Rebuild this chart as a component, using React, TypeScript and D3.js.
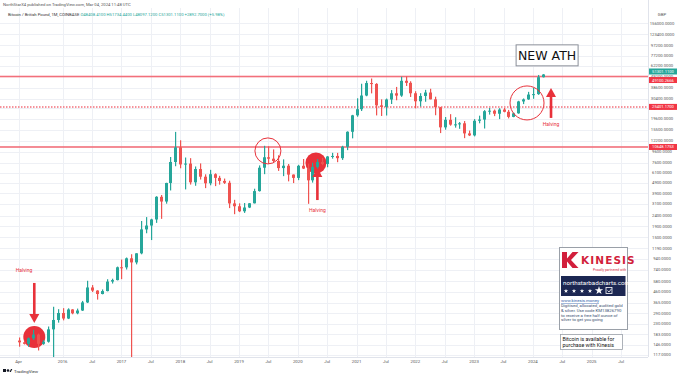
import React from "react";
import * as d3 from "d3";

const W = 680;
const H = 378;

// Monthly BTC/GBP candles, Apr 2015 .. Mar 2024
const startMonth = new Date(2015, 3, 1);
const open = [
  160, 154, 149, 168, 182, 149, 156, 204, 250,
  291, 258, 314, 289, 307, 366, 506, 473, 439, 468, 575, 594,
  784, 782, 952, 871, 1061, 1783, 1938, 2212, 3615, 3263, 4880, 7692,
  10567, 7300, 7432, 4950, 6600, 5590, 4848, 5901, 5450, 5100, 4900, 3132,
  2945, 2641, 2865, 3140, 4092, 6794, 8520, 8262, 7861, 6740, 7093, 5853,
  5447, 7083, 6672, 5169, 6904, 7683, 7371, 8664, 8767, 8357, 10698, 14812,
  21161, 24168, 32518, 42609, 41812, 26268, 25391, 29827, 34130, 32459, 44745, 42800,
  34150, 28700, 32200, 34700, 29950, 25200, 16300, 19200, 17300, 17400, 17800, 14300,
  13700, 18800, 19300, 23150, 23400, 21900, 24000, 22850, 20450, 22100, 28600, 29900,
  33200, 33500, 48408.41,
];
const high = [
  171, 160, 171, 202, 186, 162, 217, 333, 316,
  323, 322, 316, 320, 378, 585, 533, 477, 485, 605, 612, 796,
  927, 969, 1040, 1063, 2140, 2328, 2246, 3662, 3759, 4902, 8571, 14776,
  12321, 8475, 8357, 6979, 7455, 5886, 6489, 6016, 5700, 5369, 5124, 3386,
  3137, 3158, 3154, 4308, 7143, 10929, 10820, 10107, 8902, 8140, 7364, 5871,
  7235, 8203, 7411, 7576, 8187, 8411, 8740, 9383, 9372, 10930, 14955, 21387,
  30620, 41978, 44775, 47029, 42500, 29928, 30446, 36594, 39185, 48905, 49100, 44300,
  35700, 34200, 36800, 37650, 31700, 25400, 20400, 21700, 20300, 18300, 18700, 15200,
  19500, 21000, 23700, 24800, 24000, 24700, 24800, 23800, 22500, 29000, 30500, 35200,
  38500, 50800, 51734.44,
];
const low = [
  140, 147, 140, 162, 129, 146, 153, 100, 236,
  248, 255, 283, 283, 304, 361, 458, 389, 436, 465, 551, 590,
  606, 747, 100, 835, 1039, 1640, 1415, 2054, 2241, 3114, 4150, 7015,
  6714, 4245, 4714, 4593, 5261, 4364, 4641, 4558, 4708, 4777, 2829, 2480,
  2595, 2549, 2831, 3131, 4050, 5906, 7434, 7656, 6341, 5659, 5054, 4871,
  5189, 6602, 3105, 4920, 6593, 7177, 6863, 8271, 7659, 8047, 9947, 12847,
  20533, 23237, 32000, 34058, 21127, 20870, 21079, 27051, 29333, 31599, 40000, 31500,
  24600, 25600, 28400, 29900, 21200, 14400, 15500, 16900, 16200, 15800, 12900, 13500,
  13400, 17800, 15900, 21500, 20800, 19500, 22600, 19800, 20300, 21900, 27000, 29600,
  30300, 33000, 48097.12,
];
const close = [
  154, 149, 168, 182, 149, 156, 204, 250, 291,
  258, 314, 289, 307, 366, 506, 473, 439, 468, 575, 594, 784,
  782, 952, 871, 1061, 1783, 1938, 2212, 3615, 3263, 4880, 7692, 10567,
  7300, 7432, 4950, 6600, 5590, 4848, 5901, 5450, 5100, 4900, 3132, 2945,
  2641, 2865, 3140, 4092, 6794, 8520, 8262, 7861, 6740, 7093, 5853, 5447,
  7083, 6672, 5169, 6904, 7683, 7371, 8664, 8767, 8357, 10698, 14812, 21161,
  24168, 32518, 42609, 41812, 26268, 25391, 29827, 34130, 32459, 44745, 42800, 34150,
  28700, 32200, 34700, 29950, 25200, 16300, 19200, 17300, 17400, 17800, 14300, 13700,
  18800, 19300, 23150, 23400, 21900, 24000, 22850, 20450, 22100, 28600, 29900, 33200,
  33500, 48408.41, 51301.11,
];

// Time axis labels (month index from Apr 2015)
const xTickIndex = [0, 9, 15, 21, 27, 33, 39, 45, 51, 57, 63, 69, 75, 81, 87, 93, 99, 105, 111, 117, 123];
const xTickLabels = ["Apr", "2016", "Jul", "2017", "Jul", "2018", "Jul", "2019", "Jul", "2020", "Jul", "2021", "Jul", "2022", "Jul", "2023", "Jul", "2024", "Jul", "2025", "Jul"];

// Price axis ticks (log scale)
const yTicks = [156000, 123400, 97200, 77200, 62200, 49200, 38600, 30400, 24700, 19600, 15500, 12200, 9600, 7600, 6100, 4900, 3900, 3100, 2400, 1900, 1500, 1190, 940, 740, 580, 460, 365, 290, 230, 183, 146, 117];

// Horizontal levels drawn by the author
const levelValues = [49100.2666, 25401.17, 10648.1753];
const levelDashed = [false, true, false];

// Annotations in data space (month index, price)
const circleIdx = [3.2, 50.9, 60.7, 103.8];
const circlePrice = [173, 9780, 7530, 27680];
const circleR = [11, 13, 10.5, 17];
const circleFilled = [true, false, true, false];

const arrowIdx = [3.2, 61.0, 108.7];
const arrowTail = [558, 3370, 20000];
const arrowTip = [234, 6760, 38300];
const halvingIdx = [1.1, 61.0, 108.7];
const halvingPrice = [708, 2600, 16800];

const UP = "#26a69a";
const DOWN = "#ef5350";
const RED = "#e8313a";
const LEVEL = "#f2707b";
const PLOT_R = 648;
const PLOT_T = 8;
const PLOT_B = 357;

export default function App() {
  const x = d3.scaleLinear().domain([-3.8, 128.5]).range([0, PLOT_R]);
  const y = d3.scaleLog().domain([112, 217000]).range([PLOT_B, PLOT_T]);
  const dates = d3.timeMonth.range(startMonth, d3.timeMonth.offset(startMonth, open.length));
  const fmt = (v: number) => v.toFixed(4);
  const n = close.length - 1;
  const chg = close[n] - open[n];
  const pct = (chg / open[n]) * 100;

  const star = d3.symbol().type(d3.symbolStar);

  const arrow = (i: number) => {
    const cx = x(arrowIdx[i]);
    const yt = y(arrowTail[i]);
    const yp = y(arrowTip[i]);
    const dir = yp > yt ? 1 : -1;
    const headL = 9;
    const headW = 5;
    const yb = yp - dir * headL;
    return (
      <g key={"a" + i}>
        <rect x={cx - 1.3} width={2.6} y={Math.min(yt, yb)} height={Math.abs(yb - yt)} fill={RED} />
        <path d={`M${cx - headW},${yb} L${cx + headW},${yb} L${cx},${yp} Z`} fill={RED} />
      </g>
    );
  };

  const priceLabels = [
    { v: close[n], c: UP, dy: -3 },
    { v: levelValues[0], c: "#f23645", dy: 3.5 },
    { v: levelValues[1], c: "#f23645", dy: 0 },
    { v: levelValues[2], c: "#f23645", dy: 0 },
  ];

  return (
    <svg
      width={W}
      height={H}
      style={{ position: "absolute", left: 0, top: 0, background: "#fff", fontFamily: "Roboto, 'Liberation Sans', sans-serif" }}
    >
      <defs>
        <clipPath id="plot">
          <rect x={0} y={PLOT_T} width={PLOT_R} height={PLOT_B - PLOT_T} />
        </clipPath>
      </defs>
      <rect x={0} y={0} width={W} height={H} fill="#fff" />

      {/* grid */}
      <g stroke="#eef0f5" strokeWidth={1}>
        {xTickIndex.map((t, k) => (
          <line key={"vg" + k} x1={Math.round(x(t)) + 0.5} x2={Math.round(x(t)) + 0.5} y1={PLOT_T} y2={PLOT_B} />
        ))}
        {yTicks.map((t, k) => (
          <line key={"hg" + k} x1={0} x2={PLOT_R} y1={Math.round(y(t)) + 0.5} y2={Math.round(y(t)) + 0.5} />
        ))}
      </g>

      {/* header */}
      <text x={3} y={6} fontSize={4.2} fill="#555">
        NorthStarX4 published on TradingView.com, Mar 04, 2024 11:48 UTC
      </text>
      <text x={8} y={16} fontSize={4.2} fill="#333">
        Bitcoin / British Pound, 1M, COINBASE{" "}
        <tspan fill={UP}>
          {`O${fmt(open[n])} H${fmt(high[n])} L${fmt(low[n])} C${fmt(close[n])} +${fmt(chg)} (+${pct.toFixed(2)}%)`}
        </tspan>
      </text>

      <g clipPath="url(#plot)">
        {/* filled circles behind candles */}
        {circleIdx.map((ci, k) =>
          circleFilled[k] ? (
            <circle key={"cf" + k} cx={x(ci)} cy={y(circlePrice[k])} r={circleR[k]} fill={RED} />
          ) : null
        )}

        {/* level lines */}
        {levelValues.map((v, k) =>
          levelDashed[k] ? (
            <line
              key={"lv" + k}
              x1={0}
              x2={PLOT_R}
              y1={y(v)}
              y2={y(v)}
              stroke={LEVEL}
              strokeWidth={1.5}
              strokeDasharray="1.5 1.5"
            />
          ) : (
            <rect key={"lv" + k} x={0} y={y(v) - 0.8} width={PLOT_R} height={1.6} fill={LEVEL} />
          )
        )}

        {/* candles */}
        {dates.map((d, i) => {
          const o = open[i];
          const c = close[i];
          const col = c >= o ? UP : DOWN;
          const cx = Math.round(x(i));
          const yt = y(Math.max(o, c));
          const yb = y(Math.min(o, c));
          return (
            <g key={"c" + i}>
              <rect x={cx} y={y(high[i])} width={1.2} height={y(low[i]) - y(high[i])} fill={col} />
              <rect x={cx - 1} width={3} y={yt} height={Math.max(1, yb - yt)} fill={col} />
            </g>
          );
        })}

        {/* open circles */}
        {circleIdx.map((ci, k) =>
          !circleFilled[k] ? (
            <circle key={"co" + k} cx={x(ci)} cy={y(circlePrice[k])} r={circleR[k]} fill="none" stroke={RED} strokeWidth={1} />
          ) : null
        )}

        {arrowIdx.map((_, i) => arrow(i))}
        {halvingIdx.map((hi, k) => (
          <text key={"hv" + k} x={x(hi)} y={y(halvingPrice[k])} fontSize={5} fill={RED} textAnchor="middle">
            Halving
          </text>
        ))}
      </g>

      {/* NEW ATH box */}
      <g>
        <rect x={x(107.9) - 31} y={y(77700) - 10.5} width={62} height={21} fill="#fff" stroke="#8a8f98" strokeWidth={1} />
        <text x={x(107.9)} y={y(77700) + 4.5} fontSize={12.5} textAnchor="middle" fill="#111" fontFamily="'DejaVu Sans', sans-serif">
          NEW ATH
        </text>
      </g>

      {/* separators */}
      <line x1={PLOT_R + 0.5} x2={PLOT_R + 0.5} y1={0} y2={PLOT_B} stroke="#e0e3eb" />
      <line x1={0} x2={PLOT_R} y1={PLOT_B + 0.5} y2={PLOT_B + 0.5} stroke="#e0e3eb" />

      {/* price axis */}
      <text x={662} y={16} fontSize={4.3} fill="#555" textAnchor="middle">GBP</text>
      {yTicks.map((t, k) => (
        <text key={"yl" + k} x={662} y={y(t) + 1.5} fontSize={4.2} fill="#555" textAnchor="middle">
          {fmt(t)}
        </text>
      ))}
      {/* price labels of levels */}
      {priceLabels.map((l, k) => (
        <g key={"pl" + k}>
          <rect x={649} y={y(l.v) + l.dy - 3} width={28} height={6} fill={l.c} />
          <text x={663} y={y(l.v) + l.dy + 1.5} fontSize={4.1} fill="#fff" textAnchor="middle">
            {fmt(l.v)}
          </text>
        </g>
      ))}

      {/* time axis */}
      {xTickIndex.map((t, k) => (
        <text key={"xl" + k} x={x(t)} y={363} fontSize={4.3} fill="#555" textAnchor="middle">
          {xTickLabels[k]}
        </text>
      ))}

      {/* TradingView logo */}
      <g>
        <rect x={3} y={369} width={3} height={3} fill="#131722" />
        <circle cx={8} cy={370.5} r={1.3} fill="#131722" />
        <path d="M9.5,372 L11,369 L12.3,369 L10.8,372 Z" fill="#131722" />
        <text x={14} y={372.5} fontSize={4.4} fill="#333">TradingView</text>
      </g>

      {/* Kinesis panel */}
      <g>
        <rect x={559.5} y={247.5} width={68} height={82} fill="#fff" stroke="#9aa0a8" strokeWidth={1} />
        <path d="M562,252 L567,252 L567,258.5 L572.5,252 L578.5,252 L571,260 L578.5,268 L572.5,268 L567,261.5 L567,268 L562,268 Z" fill="#d21f3c" />
        <text x={581} y={264} fontSize={10.5} fontWeight="bold" fill="#d21f3c" letterSpacing={1.1} fontFamily="'DejaVu Sans', sans-serif">
          KINESIS
        </text>
        <text x={593} y={271} fontSize={3.3} fill="#d21f3c">Proudly partnered with</text>
        <rect x={561} y={276} width={64.5} height={20} fill="#1c2752" />
        <text x={563} y={285} fontSize={6.2} fill="#fff">northstarbadcharts.com</text>
        {[566, 574, 582, 590].map((sx, k) => (
          <path key={"st" + k} d={star.size(6)() || ""} transform={`translate(${sx},291)`} fill="#fff" />
        ))}
        <path d={star.size(22)() || ""} transform="translate(599,290.5)" fill="#fff" />
        <rect x={606} y={287.5} width={6} height={6} fill="none" stroke="#fff" strokeWidth={0.8} />
        <path d="M607.5,290.5 L609,292 L611.5,288.8" fill="none" stroke="#fff" strokeWidth={0.8} />
        <text x={561} y={302} fontSize={4.3} fill="#2b5ba8" textDecoration="underline">www.kinesis.money</text>
        <text x={561} y={307} fontSize={4.3} fill="#3b5070">Digitised, allocated, audited gold</text>
        <text x={561} y={312} fontSize={4.3} fill="#3b5070">&amp; silver. Use code KM13826790</text>
        <text x={561} y={316.5} fontSize={4.3} fill="#3b5070">to receive a free half ounce of</text>
        <text x={561} y={321} fontSize={4.3} fill="#3b5070">silver to get you going</text>

        <rect x={560.5} y={334.5} width={62} height={15} fill="#fff" stroke="#9aa0a8" strokeWidth={0.8} />
        <text x={562.5} y={340.5} fontSize={5.3} fill="#111">Bitcoin is available for</text>
        <text x={562.5} y={346.5} fontSize={5.3} fill="#111">purchase with Kinesis</text>
      </g>
    </svg>
  );
}
